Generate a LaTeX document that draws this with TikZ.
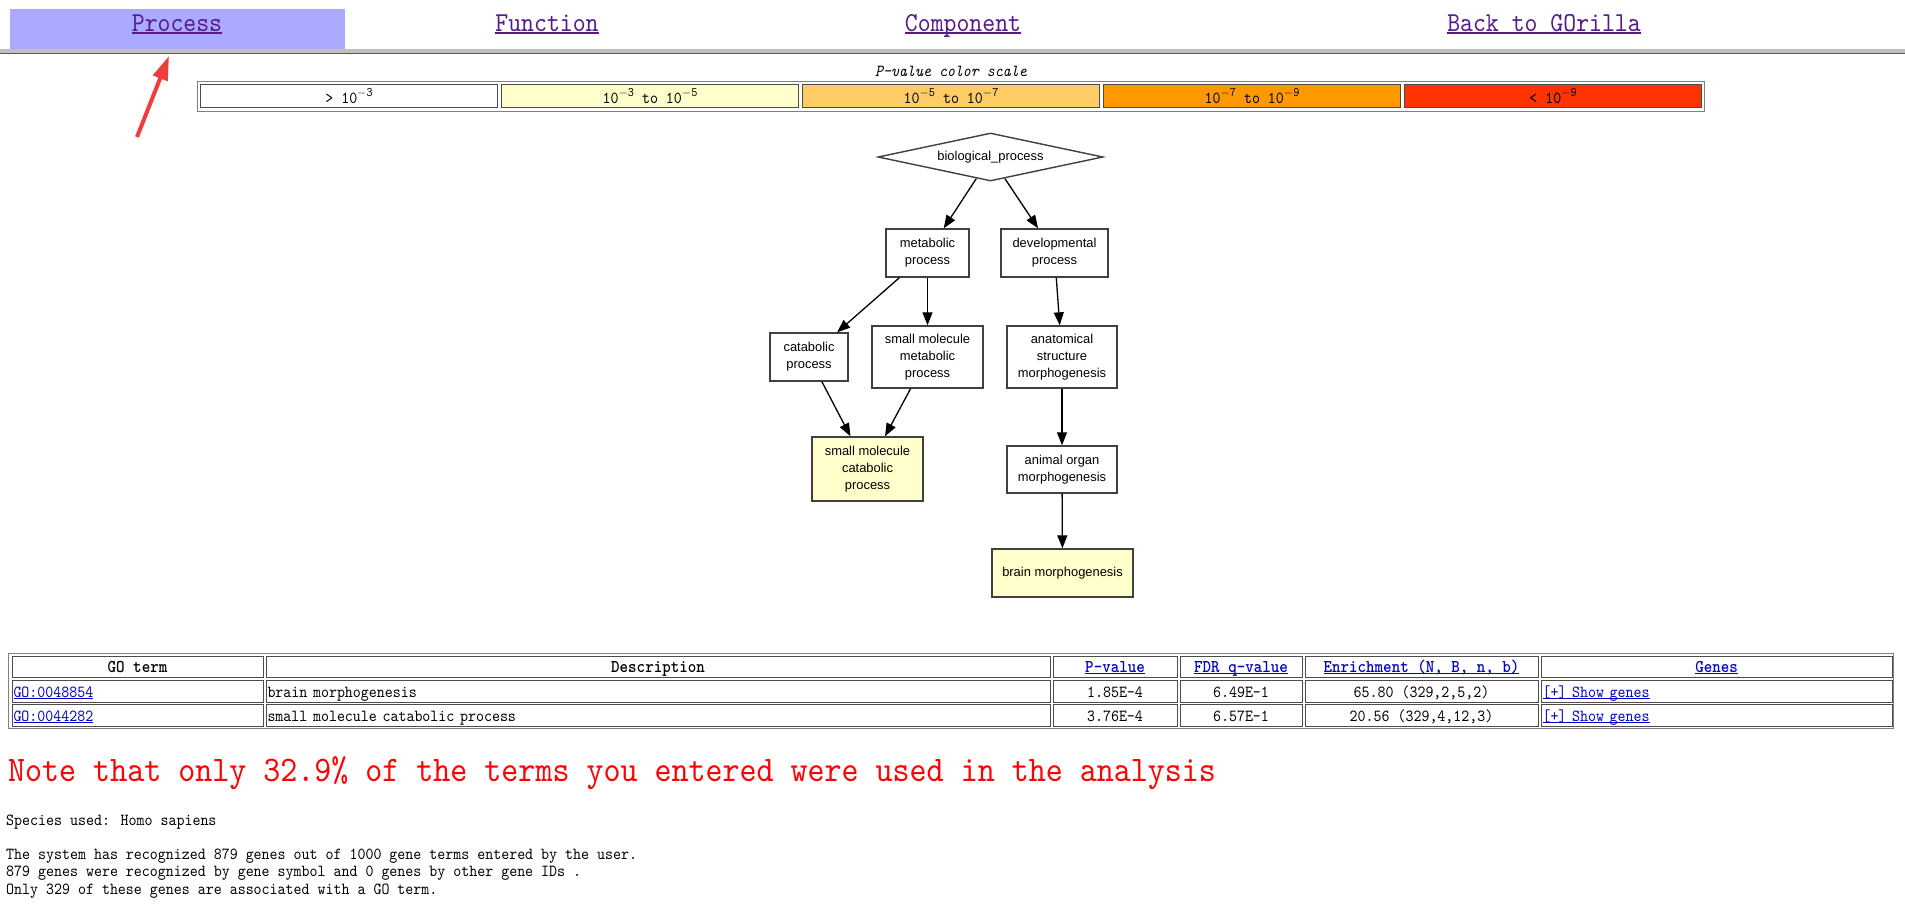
\documentclass[tikz,border=0pt]{standalone}
\usepackage{fontspec}
\usepackage{tikz}
\usetikzlibrary{positioning,arrows.meta,shapes.geometric}
\usepackage{xcolor}

\newfontfamily\graphfont{Liberation Sans}
\newfontfamily\webfont{lmmono10}[Extension=.otf, UprightFont=*-regular, ItalicFont=*-italic, BoldFont=lmmonolt10-bold, FakeStretch=0.9]

\newcommand\navfont{\webfont\fontsize{27.3}{30}\selectfont}
\newcommand\cellfont{\webfont\fontsize{16.9}{20}\selectfont}
\newcommand\headfont{\webfont\fontsize{18}{20}\selectfont\bfseries}
\newcommand\notefont{\webfont\fontsize{36}{40}\selectfont}
\newcommand\termfont{\graphfont\fontsize{12.9}{17.3}\selectfont}
\newcommand\weblink[1]{\setbox0=\hbox{#1}\rlap{\rule[-0.1em]{\wd0}{0.07em}}\box0}
\newcommand\pexp[1]{\raisebox{0.42em}{\fontsize{13}{14}\selectfont$-$#1}}

\definecolor{navhl}{HTML}{AAAAFF}
\definecolor{visited}{HTML}{551A8B}
\definecolor{linkblue}{HTML}{0000CC}
\definecolor{pyellow}{HTML}{FFFFCC}
\definecolor{porange}{HTML}{FFCC66}
\definecolor{pdark}{HTML}{FF9900}
\definecolor{pred}{HTML}{FF3300}
\definecolor{markred}{HTML}{F03C3C}
\definecolor{rulegray}{HTML}{C0C0C0}

\begin{document}
\begin{tikzpicture}[x=1pt, y=-1pt,
    navlink/.style={anchor=base, inner sep=0pt, text=visited, font=\navfont},
    scalecell/.style={rectangle, draw=black!70, line width=1pt, minimum width=297pt, minimum height=23pt, inner sep=0pt, font=\cellfont, text height=15pt, text depth=0pt, fill=#1},
    term/.style={rectangle, draw=black!75, line width=1.4pt, fill=white, align=center, font=\termfont, inner sep=0pt},
    hit/.style={term, fill=pyellow},
    root/.style={diamond, draw=black!75, line width=1.4pt, fill=white, font=\termfont, inner sep=0pt, shape aspect=4.7, minimum width=225pt, minimum height=48pt},
    isa/.style={-{Triangle[length=13pt,width=10pt]}, line width=1.3pt},
    gocell/.style={rectangle, draw=black!70, line width=1pt, minimum height=22pt, inner sep=0pt, font=\cellfont, text height=12pt, text depth=0pt},
    lcell/.style={gocell, align=left, inner xsep=1.5pt},
    info/.style={anchor=base west, inner sep=0pt, font=\cellfont},
    note/.style={anchor=base west, inner sep=0pt, text=red, font=\notefont}
]
\useasboundingbox[fill=white] (0,0) rectangle (1905,908);

% tab bar
\fill[navhl] (10,9) rectangle (345,49);
\node[navlink] (process)   at (177,31.5)  {\weblink{Process}};
\node[navlink] (function)  at (547,31.5)  {\weblink{Function}};
\node[navlink] (component) at (963,31.5)  {\weblink{Component}};
\node[navlink] (gorilla)   at (1544,31.5) {\weblink{Back to GOrilla}};
\fill[rulegray] (0,49) rectangle (1905,53);
\draw[black!65, line width=1pt] (0,53.5) -- (1905,53.5);

\coordinate (marktail) at (137,137);
\coordinate (markhead) at (169,56);
\draw[markred, line width=4pt, -{Triangle[length=24pt,width=15pt]}] (marktail) -- (markhead);

% p-value scale
\node[anchor=base, inner sep=0pt, font=\cellfont\itshape] (scaletitle) at (951,76) {P-value color scale};
\draw[black!50, line width=1pt] (197.5,81.5) rectangle (1704.5,111.5);
\node[scalecell=white]   (s1) at (349,96)  {> 10\pexp{3}};
\node[scalecell=pyellow] (s2) at (650,96)  {10\pexp{3} to 10\pexp{5}};
\node[scalecell=porange] (s3) at (951,96)  {10\pexp{5} to 10\pexp{7}};
\node[scalecell=pdark]   (s4) at (1252,96) {10\pexp{7} to 10\pexp{9}};
\node[scalecell=pred]    (s5) at (1553,96) {< 10\pexp{9}};

% GO graph
\node[root] (bp) at (990.5,157) {biological\_process};
\node[term, minimum width=83pt,  minimum height=48pt] (metab)   at (927.5,253)  {metabolic\\process};
\node[term, minimum width=107pt, minimum height=48pt] (devel)   at (1054.5,253) {developmental\\process};
\node[term, minimum width=78pt,  minimum height=48pt] (catab)   at (809,357)    {catabolic\\process};
\node[term, minimum width=111pt, minimum height=62pt] (smmetab) at (927.5,357)  {small molecule\\metabolic\\process};
\node[term, minimum width=110pt, minimum height=62pt] (anat)    at (1062,357)   {anatomical\\structure\\morphogenesis};
\node[hit,  minimum width=111pt, minimum height=64pt] (smcatab) at (867.5,469)  {small molecule\\catabolic\\process};
\node[term, minimum width=110pt, minimum height=47pt] (organ)   at (1062,469.5) {animal organ\\morphogenesis};
\node[hit,  minimum width=141pt, minimum height=48pt] (brain)   at (1062.5,573) {brain morphogenesis};

\draw[isa] (bp) -- (metab);
\draw[isa] (bp) -- (devel);
\draw[isa] (metab) -- (catab);
\draw[isa] (metab) -- (smmetab);
\draw[isa] (devel) -- (anat);
\draw[isa] (catab) -- (smcatab);
\draw[isa] (smmetab) -- (smcatab);
\draw[isa] (anat) -- (organ);
\draw[isa] (organ) -- (brain);

% results table
\draw[black!50, line width=1pt] (8.5,653.5) rectangle (1893.5,728.5);
\node[gocell, minimum width=251pt, minimum height=21pt, font=\headfont] (hterm) at (137.5,666.5) {GO term};
\node[gocell, minimum width=784pt, minimum height=21pt, font=\headfont] (hdesc) at (658,666.5) {Description};
\node[gocell, minimum width=124pt, minimum height=21pt, font=\headfont, text=linkblue] (hpval) at (1115,666.5) {\weblink{P-value}};
\node[gocell, minimum width=122pt, minimum height=21pt, font=\headfont, text=linkblue] (hfdr) at (1241,666.5) {\weblink{FDR q-value}};
\node[gocell, minimum width=233pt, minimum height=21pt, font=\headfont, text=linkblue] (henr) at (1421.5,666.5) {\weblink{Enrichment (N, B, n, b)}};
\node[gocell, minimum width=351pt, minimum height=21pt, font=\headfont, text=linkblue] (hgenes) at (1716.5,666.5) {\weblink{Genes}};

\node[lcell, text width=248pt, text=linkblue] (term1) at (137.5,691) {\weblink{GO:0048854}};
\node[lcell, text width=781pt] (desc1) at (658,691) {brain morphogenesis};
\node[gocell, minimum width=124pt] (pval1) at (1115,691) {1.85E-4};
\node[gocell, minimum width=122pt] (fdr1) at (1241,691) {6.49E-1};
\node[gocell, minimum width=233pt] (enr1) at (1421.5,691) {65.80 (329,2,5,2)};
\node[lcell, text width=348pt, text=linkblue] (genes1) at (1716.5,691) {\weblink{[+] Show genes}};

\node[lcell, text width=248pt, text=linkblue] (term2) at (137.5,715) {\weblink{GO:0044282}};
\node[lcell, text width=781pt] (desc2) at (658,715) {small molecule catabolic process};
\node[gocell, minimum width=124pt] (pval2) at (1115,715) {3.76E-4};
\node[gocell, minimum width=122pt] (fdr2) at (1241,715) {6.57E-1};
\node[gocell, minimum width=233pt] (enr2) at (1421.5,715) {20.56 (329,4,12,3)};
\node[lcell, text width=348pt, text=linkblue] (genes2) at (1716.5,715) {\weblink{[+] Show genes}};

% notes
\node[note] (warning) at (8,781) {Note that only 32.9\% of the terms you entered were used in the analysis};
\node[info] (species) at (6,825) {Species used: Homo sapiens};
\node[info] (recog)   at (6,859) {The system has recognized 879 genes out of 1000 gene terms entered by the user.};
\node[info] (symbol)  at (6,876) {879 genes were recognized by gene symbol and 0 genes by other gene IDs .};
\node[info] (assoc)   at (6,894) {Only 329 of these genes are associated with a GO term.};
\end{tikzpicture}
\end{document}
